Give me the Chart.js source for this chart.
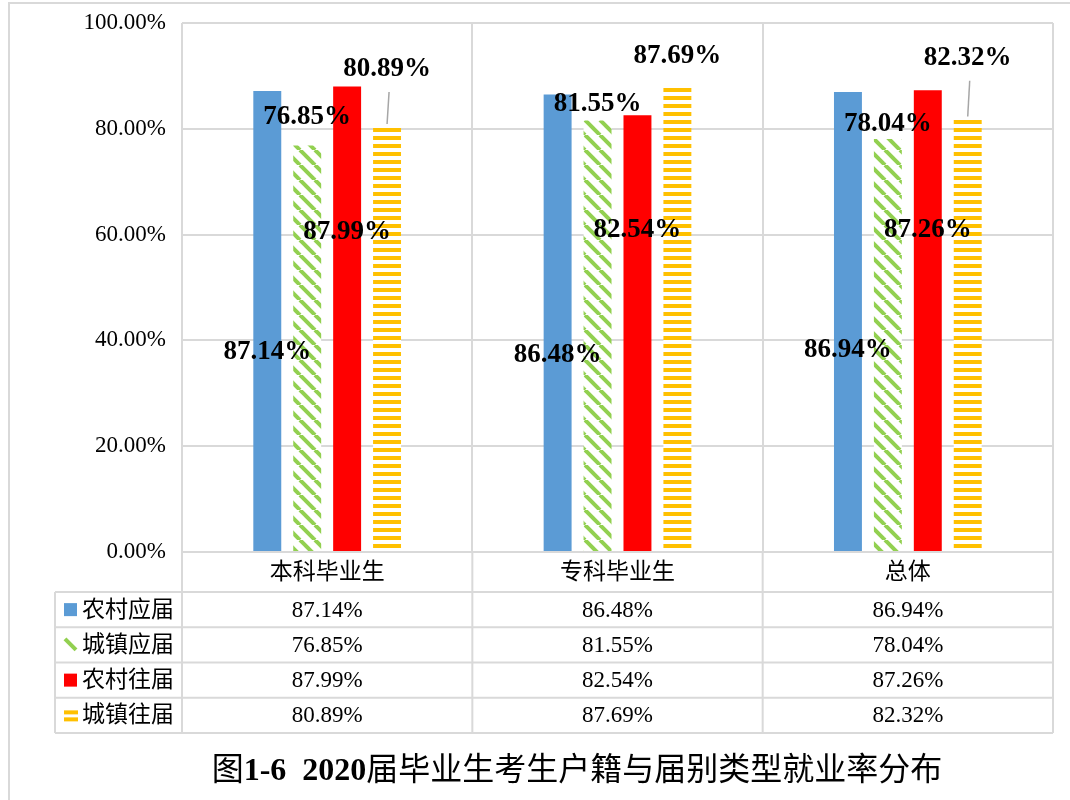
<!DOCTYPE html>
<html lang="zh">
<head>
<meta charset="UTF-8">
<title>2020届毕业生考生户籍与届别类型就业率分布</title>
<script src="https://cdn.jsdelivr.net/npm/chart.js"></script>
<style>
  html, body { margin: 0; padding: 0; background: #fff; }
  canvas { display: block; }
</style>
</head>
<body>
<canvas id="myChart" width="1070" height="800"></canvas>
<script>
// 数据
const categories = ['本科毕业生', '专科毕业生', '总体'];
const seriesNames = ['农村应届', '城镇应届', '农村往届', '城镇往届'];
const ruralFresh = [87.14, 86.48, 86.94];
const urbanFresh = [76.85, 81.55, 78.04];
const ruralPrev = [87.99, 82.54, 87.26];
const urbanPrev = [80.89, 87.69, 82.32];
const yTicks = [0, 20, 40, 60, 80, 100];
const title = [['图', false], ['1-6', true], ['  ', false], ['2020', true], ['届毕业生考生户籍与届别类型就业率分布', false]];

const serif = '"Liberation Serif", "Noto Sans CJK SC", serif';
const gridColor = '#d9d9d9';
const pct = v => v.toFixed(2) + '%';

// 斜线 / 横线 填充
function stripePattern(kind, color) {
  const c = document.createElement('canvas');
  const g = c.getContext('2d');
  if (kind === 'diag') {
    c.width = 15; c.height = 15;
    g.fillStyle = '#fff'; g.fillRect(0, 0, 15, 15);
    g.strokeStyle = color; g.lineWidth = 4;
    [-15, 0, 15].forEach(o => {
      g.beginPath(); g.moveTo(o, 0); g.lineTo(o + 15, 15); g.stroke();
    });
  } else {
    c.width = 8; c.height = 8;
    g.fillStyle = '#fff'; g.fillRect(0, 0, 8, 8);
    g.fillStyle = color; g.fillRect(0, 0, 8, 4);
  }
  return g.createPattern(c, 'repeat');
}

const datasets = [
  { label: seriesNames[0], data: ruralFresh, backgroundColor: '#5b9bd5', swatch: 'box', swatchColor: '#5b9bd5',
    labelAt: [37.7, 37.2, 38.1] },
  { label: seriesNames[1], data: urbanFresh, backgroundColor: stripePattern('diag', '#92d050'), swatch: 'diag', swatchColor: '#92d050',
    labelAt: [82.3, 84.7, 80.8] },
  { label: seriesNames[2], data: ruralPrev, backgroundColor: '#ff0000', swatch: 'box', swatchColor: '#ff0000',
    labelAt: [60.4, 60.8, 60.9] },
  { label: seriesNames[3], data: urbanPrev, backgroundColor: stripePattern('hor', '#ffc000'), swatch: 'hor', swatchColor: '#ffc000',
    labelAt: [91.3, 93.8, 93.4], leader: [true, false, true] }
];

// 数据标签 + 引导线
const labelPlugin = {
  id: 'labels',
  afterDatasetsDraw(chart) {
    const ctx = chart.ctx;
    const y = chart.scales.y;
    ctx.save();
    ctx.font = 'bold 27px ' + serif;
    ctx.fillStyle = '#000';
    ctx.textAlign = 'center';
    ctx.textBaseline = 'middle';
    chart.data.datasets.forEach((ds, i) => {
      chart.getDatasetMeta(i).data.forEach((bar, j) => {
        const ly = y.getPixelForValue(ds.labelAt[j]);
        if (ds.leader && ds.leader[j]) {
          ctx.strokeStyle = '#a6a6a6';
          ctx.lineWidth = 1.5;
          ctx.beginPath();
          ctx.moveTo(bar.x + 2, ly + 23);
          ctx.lineTo(bar.x, bar.y);
          ctx.stroke();
        }
        ctx.fillText(pct(ds.data[j]), bar.x, ly);
      });
    });
    ctx.restore();
  }
};

// 数据表 + 标题 + 外框
const tablePlugin = {
  id: 'table',
  afterDraw(chart) {
    const ctx = chart.ctx;
    const area = chart.chartArea;
    const x = chart.scales.x;
    const half = (x.getPixelForValue(1) - x.getPixelForValue(0)) / 2;
    const legendLeft = 55;
    const headTop = area.bottom, headBottom = headTop + 40, rowH = 35.25;
    const tableBottom = headBottom + rowH * seriesNames.length;

    ctx.save();
    ctx.strokeStyle = gridColor;
    ctx.lineWidth = 2;
    ctx.beginPath();
    // 横线
    ctx.moveTo(area.left, headTop); ctx.lineTo(area.right, headTop);
    for (let r = 0; r <= seriesNames.length; r++) {
      const yy = headBottom + r * rowH;
      ctx.moveTo(legendLeft, yy); ctx.lineTo(area.right, yy);
    }
    // 竖线
    ctx.moveTo(legendLeft, headBottom); ctx.lineTo(legendLeft, tableBottom);
    for (let c = 0; c <= categories.length; c++) {
      const xx = c < categories.length ? x.getPixelForValue(c) - half : x.getPixelForValue(c - 1) + half;
      ctx.moveTo(xx, headTop); ctx.lineTo(xx, tableBottom);
    }
    // 外框
    ctx.moveTo(9, 800); ctx.lineTo(9, 3); ctx.lineTo(1070, 3);
    ctx.stroke();

    ctx.fillStyle = '#000';
    ctx.textBaseline = 'middle';
    ctx.textAlign = 'center';
    ctx.font = '23px ' + serif;
    categories.forEach((c, i) => ctx.fillText(c, x.getPixelForValue(i), (headTop + headBottom) / 2 + 1));

    chart.data.datasets.forEach((ds, r) => {
      const mid = headBottom + r * rowH + rowH / 2;
      ctx.textAlign = 'center';
      ds.data.forEach((v, i) => ctx.fillText(pct(v), x.getPixelForValue(i), mid + 1));
      // 图例
      ctx.fillStyle = ds.swatchColor;
      ctx.strokeStyle = ds.swatchColor;
      if (ds.swatch === 'box') {
        ctx.fillRect(64, mid - 6.5, 13, 13);
      } else if (ds.swatch === 'diag') {
        ctx.lineWidth = 4;
        ctx.beginPath(); ctx.moveTo(65, mid - 6); ctx.lineTo(76, mid + 5); ctx.stroke();
      } else {
        ctx.fillRect(64, mid - 5, 14, 4);
        ctx.fillRect(64, mid + 2, 14, 4);
      }
      ctx.fillStyle = '#000';
      ctx.textAlign = 'left';
      ctx.fillText(ds.label, 82, mid + 1);
    });

    // 标题
    const fontOf = b => (b ? 'bold ' : '') + '32px ' + serif;
    let total = 0;
    title.forEach(([t, b]) => { ctx.font = fontOf(b); total += ctx.measureText(t).width; });
    let tx = 577 - total / 2;
    ctx.textAlign = 'left';
    title.forEach(([t, b]) => {
      ctx.font = fontOf(b);
      ctx.fillText(t, tx, 772);
      tx += ctx.measureText(t).width;
    });
    ctx.restore();
  }
};

new Chart(document.getElementById('myChart'), {
  type: 'bar',
  data: { labels: categories, datasets: datasets },
  options: {
    responsive: false,
    animation: false,
    layout: { padding: { left: 10, top: 22, right: 17, bottom: 248 } },
    datasets: { bar: { categoryPercentage: 0.55, barPercentage: 0.7 } },
    plugins: { legend: { display: false }, tooltip: { enabled: false } },
    scales: {
      x: {
        grid: { offset: true, color: gridColor, lineWidth: 2, drawTicks: false },
        border: { display: false },
        ticks: { display: false }
      },
      y: {
        min: 0, max: 100,
        afterBuildTicks: s => { s.ticks = yTicks.map(v => ({ value: v })); },
        afterFit: s => { s.width = 172; },
        grid: { color: gridColor, lineWidth: 2, drawTicks: false },
        border: { display: false },
        ticks: { padding: 16, color: '#000', font: { family: serif, size: 23, lineHeight: 0.6 }, callback: v => pct(v) }
      }
    }
  },
  plugins: [labelPlugin, tablePlugin]
});
</script>
</body>
</html>
